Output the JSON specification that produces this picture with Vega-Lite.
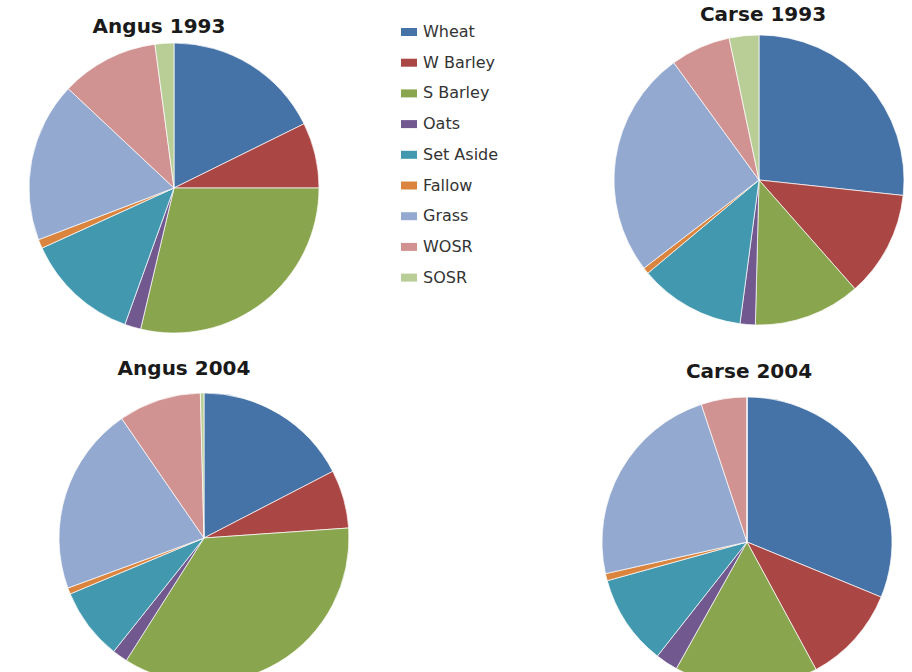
{
  "$schema": "https://vega.github.io/schema/vega-lite/v6.json",
  "padding": 0,
  "background": "white",
  "config": {
    "view": {"stroke": null},
    "font": "DejaVu Sans",
    "title": {"font": "DejaVu Sans", "fontSize": 20, "fontWeight": "bold", "color": "#1a1a1a", "baseline": "alphabetic", "anchor": "middle", "frame": "group"},
    "legend": {
      "orient": "none", "legendX": 401, "legendY": 24, "padding": 0,
      "symbolType": "M-1,-0.5H1V0.5H-1Z", "symbolSize": 256, "symbolStrokeWidth": 0,
      "labelFont": "DejaVu Sans", "labelFontSize": 16, "labelColor": "#333333", "labelOffset": 6, "rowPadding": 14.7
    }
  },
  "data": {"values": [
    {"pie": "Angus 1993", "crop": "Wheat", "n": 1, "pct": 17.7},
    {"pie": "Angus 1993", "crop": "W Barley", "n": 2, "pct": 7.3},
    {"pie": "Angus 1993", "crop": "S Barley", "n": 3, "pct": 28.7},
    {"pie": "Angus 1993", "crop": "Oats", "n": 4, "pct": 1.8},
    {"pie": "Angus 1993", "crop": "Set Aside", "n": 5, "pct": 12.7},
    {"pie": "Angus 1993", "crop": "Fallow", "n": 6, "pct": 1.0},
    {"pie": "Angus 1993", "crop": "Grass", "n": 7, "pct": 17.8},
    {"pie": "Angus 1993", "crop": "WOSR", "n": 8, "pct": 10.9},
    {"pie": "Angus 1993", "crop": "SOSR", "n": 9, "pct": 2.1},
    {"pie": "Carse 1993", "crop": "Wheat", "n": 1, "pct": 26.7},
    {"pie": "Carse 1993", "crop": "W Barley", "n": 2, "pct": 11.8},
    {"pie": "Carse 1993", "crop": "S Barley", "n": 3, "pct": 11.9},
    {"pie": "Carse 1993", "crop": "Oats", "n": 4, "pct": 1.7},
    {"pie": "Carse 1993", "crop": "Set Aside", "n": 5, "pct": 11.8},
    {"pie": "Carse 1993", "crop": "Fallow", "n": 6, "pct": 0.7},
    {"pie": "Carse 1993", "crop": "Grass", "n": 7, "pct": 25.4},
    {"pie": "Carse 1993", "crop": "WOSR", "n": 8, "pct": 6.7},
    {"pie": "Carse 1993", "crop": "SOSR", "n": 9, "pct": 3.3},
    {"pie": "Angus 2004", "crop": "Wheat", "n": 1, "pct": 17.4},
    {"pie": "Angus 2004", "crop": "W Barley", "n": 2, "pct": 6.5},
    {"pie": "Angus 2004", "crop": "S Barley", "n": 3, "pct": 35.1},
    {"pie": "Angus 2004", "crop": "Oats", "n": 4, "pct": 1.7},
    {"pie": "Angus 2004", "crop": "Set Aside", "n": 5, "pct": 8.0},
    {"pie": "Angus 2004", "crop": "Fallow", "n": 6, "pct": 0.7},
    {"pie": "Angus 2004", "crop": "Grass", "n": 7, "pct": 21.0},
    {"pie": "Angus 2004", "crop": "WOSR", "n": 8, "pct": 9.2},
    {"pie": "Angus 2004", "crop": "SOSR", "n": 9, "pct": 0.4},
    {"pie": "Carse 2004", "crop": "Wheat", "n": 1, "pct": 31.2},
    {"pie": "Carse 2004", "crop": "W Barley", "n": 2, "pct": 10.9},
    {"pie": "Carse 2004", "crop": "S Barley", "n": 3, "pct": 16.0},
    {"pie": "Carse 2004", "crop": "Oats", "n": 4, "pct": 2.5},
    {"pie": "Carse 2004", "crop": "Set Aside", "n": 5, "pct": 10.1},
    {"pie": "Carse 2004", "crop": "Fallow", "n": 6, "pct": 0.8},
    {"pie": "Carse 2004", "crop": "Grass", "n": 7, "pct": 23.4},
    {"pie": "Carse 2004", "crop": "WOSR", "n": 8, "pct": 5.1},
    {"pie": "Carse 2004", "crop": "SOSR", "n": 9, "pct": 0}
  ]},
  "columns": 2,
  "align": "none",
  "bounds": "flush",
  "spacing": {"row": 19, "column": 10},
  "concat": [
    {
      "title": {"text": "Angus 1993", "offset": -37, "dx": -15},
      "width": 348, "height": 376,
      "transform": [{"filter": "datum.pie === 'Angus 1993'"}],
      "mark": {"type": "arc", "outerRadius": 145, "stroke": "#ffffff", "strokeWidth": 0.7},
      "encoding": {
        "theta": {"field": "pct", "type": "quantitative", "stack": true},
        "order": {"field": "n", "type": "quantitative"},
        "color": {"field": "crop", "type": "nominal", "title": null,
          "scale": {"domain": ["Wheat", "W Barley", "S Barley", "Oats", "Set Aside", "Fallow", "Grass", "WOSR", "SOSR"],
                    "range": ["#4572A7", "#AA4643", "#89A54E", "#71588F", "#4198AF", "#DB843D", "#93A9CF", "#D19392", "#B9CD96"]}}
      }
    },
    {
      "title": {"text": "Carse 1993", "offset": -25, "dx": 4},
      "width": 682, "height": 360,
      "transform": [{"filter": "datum.pie === 'Carse 1993'"}],
      "mark": {"type": "arc", "outerRadius": 145, "stroke": "#ffffff", "strokeWidth": 0.7},
      "encoding": {
        "theta": {"field": "pct", "type": "quantitative", "stack": true},
        "order": {"field": "n", "type": "quantitative"},
        "color": {"field": "crop", "type": "nominal", "title": null,
          "scale": {"domain": ["Wheat", "W Barley", "S Barley", "Oats", "Set Aside", "Fallow", "Grass", "WOSR", "SOSR"],
                    "range": ["#4572A7", "#AA4643", "#89A54E", "#71588F", "#4198AF", "#DB843D", "#93A9CF", "#D19392", "#B9CD96"]}}
      }
    },
    {
      "title": {"text": "Angus 2004", "offset": 13, "dx": -20},
      "width": 408, "height": 286,
      "transform": [{"filter": "datum.pie === 'Angus 2004'"}],
      "mark": {"type": "arc", "outerRadius": 145, "stroke": "#ffffff", "strokeWidth": 0.7},
      "encoding": {
        "theta": {"field": "pct", "type": "quantitative", "stack": true},
        "order": {"field": "n", "type": "quantitative"},
        "color": {"field": "crop", "type": "nominal", "title": null,
          "scale": {"domain": ["Wheat", "W Barley", "S Barley", "Oats", "Set Aside", "Fallow", "Grass", "WOSR", "SOSR"],
                    "range": ["#4572A7", "#AA4643", "#89A54E", "#71588F", "#4198AF", "#DB843D", "#93A9CF", "#D19392", "#B9CD96"]}}
      }
    },
    {
      "title": {"text": "Carse 2004", "offset": 13, "dx": 2},
      "width": 658, "height": 294,
      "transform": [{"filter": "datum.pie === 'Carse 2004'"}],
      "mark": {"type": "arc", "outerRadius": 145, "stroke": "#ffffff", "strokeWidth": 0.7},
      "encoding": {
        "theta": {"field": "pct", "type": "quantitative", "stack": true},
        "order": {"field": "n", "type": "quantitative"},
        "color": {"field": "crop", "type": "nominal", "title": null,
          "scale": {"domain": ["Wheat", "W Barley", "S Barley", "Oats", "Set Aside", "Fallow", "Grass", "WOSR", "SOSR"],
                    "range": ["#4572A7", "#AA4643", "#89A54E", "#71588F", "#4198AF", "#DB843D", "#93A9CF", "#D19392", "#B9CD96"]}}
      }
    }
  ]
}
